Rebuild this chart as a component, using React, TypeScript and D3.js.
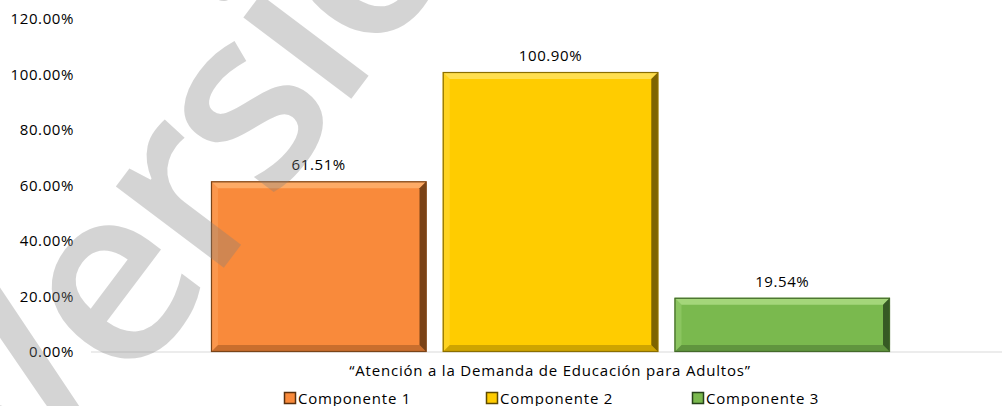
import React from "react";
import * as d3 from "d3";

const series = ["Componente 1", "Componente 2", "Componente 3"];
const values = [61.51, 100.9, 19.54];
const valueLabels = ["61.51%", "100.90%", "19.54%"];
const category = "“Atención a la Demanda de Educación  para Adultos”";
const yTicks = [0, 20, 40, 60, 80, 100, 120];
const watermark = "Versión";

const W = 1002;
const H = 406;
const FONT = "'Open Sans', 'DejaVu Sans', sans-serif";

const palettes = [
  { base: "#F98A3B", light: "#FFB676", dark: "#5A300E", border: "#7A4418" },
  { base: "#FFCC00", light: "#FFE66A", dark: "#5E4A00", border: "#8A6E00" },
  { base: "#7AB94E", light: "#B3E08A", dark: "#26421A", border: "#43692A" },
];

function Bar({ x, y, w, h, p }: { x: number; y: number; w: number; h: number; p: any }) {
  const b = Math.min(7, h / 2, w / 2);
  const x1 = x + w;
  const y1 = y + h;
  return (
    <g>
      <rect x={x} y={y} width={w} height={h} fill={p.base} />
      <polygon points={`${x},${y} ${x1},${y} ${x1 - b},${y + b} ${x + b},${y + b}`} fill={p.light} opacity={0.75} />
      <polygon points={`${x},${y} ${x + b},${y + b} ${x + b},${y1 - b} ${x},${y1}`} fill={p.light} opacity={0.3} />
      <polygon points={`${x1},${y} ${x1},${y1} ${x1 - b},${y1 - b} ${x1 - b},${y + b}`} fill={p.dark} opacity={0.8} />
      <polygon points={`${x},${y1} ${x1},${y1} ${x1 - b},${y1 - b} ${x + b},${y1 - b}`} fill={p.dark} opacity={0.3} />
      <rect x={x + 0.5} y={y + 0.5} width={w - 1} height={h - 1} fill="none" stroke={p.border} strokeWidth={1.2} />
    </g>
  );
}

export default function App() {
  const y = d3.scaleLinear().domain([0, 120]).range([352, 19]);
  const xGroup = d3.scaleBand<string>().domain([category]).range([91, 1010]).paddingOuter(0.1767);
  const x = d3
    .scaleBand<string>()
    .domain(series)
    .range([xGroup(category)!, xGroup(category)! + xGroup.bandwidth()])
    .paddingInner(0.07);

  const legendX = [284, 486, 692];

  return (
    <svg width={W} height={H} style={{ position: "absolute", left: 0, top: 0, background: "#fff" }} fontFamily={FONT}>
      {yTicks.map((t) => (
        <text key={t} x={74} y={y(t)} dy="0.35em" textAnchor="end" fontSize={15} letterSpacing={0.6} fill="#000">
          {t.toFixed(2) + "%"}
        </text>
      ))}
      <line x1={91} x2={W} y1={y(0)} y2={y(0)} stroke="#D9D9D9" strokeWidth={1} />
      {series.map((s, i) => (
        <Bar key={s} x={x(s)!} y={y(values[i])} w={x.bandwidth()} h={y(0) - y(values[i])} p={palettes[i]} />
      ))}
      {series.map((s, i) => (
        <text key={s} x={x(s)! + x.bandwidth() / 2} y={y(values[i]) - 11} textAnchor="middle" fontSize={15} letterSpacing={0.6} fill="#000">
          {valueLabels[i]}
        </text>
      ))}
      <text x={550} y={376} textAnchor="middle" fontSize={15} letterSpacing={0.8} fill="#000">
        {category}
      </text>
      {series.map((s, i) => (
        <g key={s} transform={`translate(${legendX[i]},${392})`}>
          <rect x={0.5} y={0.5} width={11} height={11} fill={palettes[i].base} stroke={palettes[i].dark} strokeWidth={1.5} />
          <text x={14} y={11.5} fontSize={15} letterSpacing={0.8} fill="#000">
            {s}
          </text>
        </g>
      ))}
      <text
        transform="translate(42,509) rotate(-53)"
        fontSize={250}
        fontWeight={600}
        letterSpacing={-9}
        fill="#808080"
        opacity={0.33}
        fontFamily={FONT}
      >
        {watermark}
      </text>
    </svg>
  );
}
